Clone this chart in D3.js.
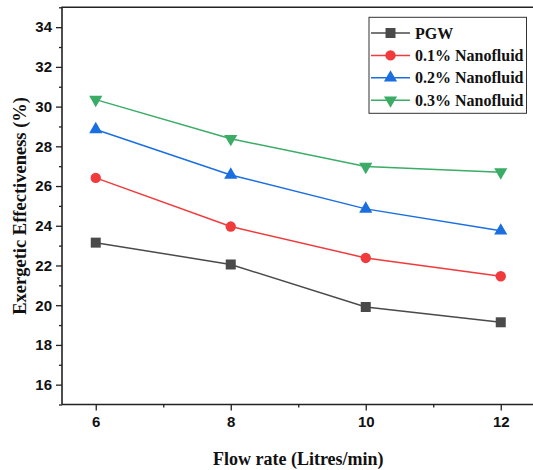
<!DOCTYPE html>
<html><head><meta charset="utf-8">
<script src="https://cdn.jsdelivr.net/npm/d3@7"></script>
<style>body{margin:0;background:#fff}svg{display:block}</style>
</head><body>
<svg id="c" width="533" height="470"></svg>
<script>
const flowRates = [6, 8, 10, 12];
const pgw = [23.15, 22.05, 19.91, 19.14];
const nano01 = [26.41, 23.96, 22.38, 21.46];
const nano02 = [28.85, 26.56, 24.85, 23.75];
const nano03 = [30.35, 28.38, 26.98, 26.7];
const seriesNames = ["PGW", "0.1% Nanofluid", "0.2% Nanofluid", "0.3% Nanofluid"];
const seriesColors = ["#4a4a4a", "#f03a3c", "#1a6ee0", "#3aac66"];
const seriesShapes = ["square", "circle", "triangle", "triangleDown"];
const xTicks = [6, 8, 10, 12];
const yTicks = [16, 18, 20, 22, 24, 26, 28, 30, 32, 34];

const svg = d3.select("#c");
const L = 62, R = 534.5, T = 7.3, B = 404.5;
const x = d3.scaleLinear().domain([5.5, 12.5]).range([L, R]);
const y = d3.scaleLinear().domain([15, 35]).range([B, T]);

// frame
svg.append("path").attr("d", `M${L},${B}V${T}H${R+2}`).attr("fill","none").attr("stroke","#222").attr("stroke-width",1.6);
svg.append("line").attr("x1",L).attr("x2",R+2).attr("y1",B).attr("y2",B).attr("stroke","#222").attr("stroke-width",1.6);

// y axis
const yAxis = d3.axisLeft(y).tickValues(yTicks).tickSize(6).tickPadding(4).tickFormat(d3.format("d"));
const gy = svg.append("g").attr("transform",`translate(${L},0)`).call(yAxis);
gy.select(".domain").remove();
gy.selectAll("line").attr("stroke","#222").attr("stroke-width",1.3);
gy.selectAll("text").attr("font-family","'Liberation Sans', Arial, sans-serif").attr("font-weight","bold").attr("font-size",15).attr("fill","#111");
const yMinor = d3.axisLeft(y).tickValues(d3.range(15, 35.01, 2)).tickSize(3).tickFormat("");
const gym = svg.append("g").attr("transform",`translate(${L},0)`).call(yMinor);
gym.select(".domain").remove();
gym.selectAll("line").attr("stroke","#222").attr("stroke-width",1.3);

// x axis
const xAxis = d3.axisBottom(x).tickValues(xTicks).tickSize(6).tickPadding(6).tickFormat(d3.format("d"));
const gx = svg.append("g").attr("transform",`translate(0,${B})`).call(xAxis);
gx.select(".domain").remove();
gx.selectAll("line").attr("stroke","#222").attr("stroke-width",1.3);
gx.selectAll("text").attr("font-family","'Liberation Sans', Arial, sans-serif").attr("font-weight","bold").attr("font-size",15).attr("fill","#111");
const xMinor = d3.axisBottom(x).tickValues([7, 9, 11]).tickSize(3).tickFormat("");
const gxm = svg.append("g").attr("transform",`translate(0,${B})`).call(xMinor);
gxm.select(".domain").remove();
gxm.selectAll("line").attr("stroke","#222").attr("stroke-width",1.3);

// titles
svg.append("text").attr("x", (L+R)/2).attr("y", 465).attr("text-anchor","middle")
  .attr("font-family","'Liberation Serif', 'Times New Roman', serif").attr("font-weight","bold").attr("font-size",18)
  .attr("fill","#111").text("Flow rate (Litres/min)");
svg.append("text").attr("transform",`translate(25.5,${(T+B)/2}) rotate(-90)`).attr("text-anchor","middle")
  .attr("font-family","'Liberation Serif', 'Times New Roman', serif").attr("font-weight","bold").attr("font-size",18.5)
  .attr("fill","#111").text("Exergetic Effectiveness (%)");

const symbolFor = {
  square: d3.symbol().type(d3.symbolSquare).size(100),
  circle: d3.symbol().type(d3.symbolCircle).size(85),
  triangle: d3.symbol().type(d3.symbolTriangle).size(75),
  triangleDown: d3.symbol().type(d3.symbolTriangle).size(75)
};
function marker(g, shape, cx, cy, color) {
  const p = g.append("path").attr("d", symbolFor[shape]()).attr("fill", color);
  if (shape === "triangleDown") p.attr("transform", `translate(${cx},${cy}) rotate(180)`);
  else p.attr("transform", `translate(${cx},${cy})`);
}

const allSeries = [pgw, nano01, nano02, nano03];
const line = d3.line().x((d,i)=>x(flowRates[i])).y(d=>y(d));
allSeries.forEach((vals, si) => {
  const g = svg.append("g");
  g.append("path").attr("d", line(vals)).attr("fill","none").attr("stroke", seriesColors[si]).attr("stroke-width",1.5);
  vals.forEach((v,i) => marker(g, seriesShapes[si], x(flowRates[i]), y(v), seriesColors[si]));
});

// legend
const lg = svg.append("g");
lg.append("rect").attr("x",369).attr("y",17.3).attr("width",157.5).attr("height",96).attr("fill","#fff").attr("stroke","#333").attr("stroke-width",1);
seriesNames.forEach((n, i) => {
  const cy = 33 + i*22.4;
  lg.append("line").attr("x1",371).attr("x2",410).attr("y1",cy).attr("y2",cy).attr("stroke",seriesColors[i]).attr("stroke-width",1.5);
  marker(lg, seriesShapes[i], 390.5, cy, seriesColors[i]);
  lg.append("text").attr("x",415).attr("y",cy+5.5).attr("font-family","'Liberation Serif', 'Times New Roman', serif")
    .attr("font-weight","bold").attr("font-size",16).attr("fill","#111").text(n);
});
</script>
</body></html>
